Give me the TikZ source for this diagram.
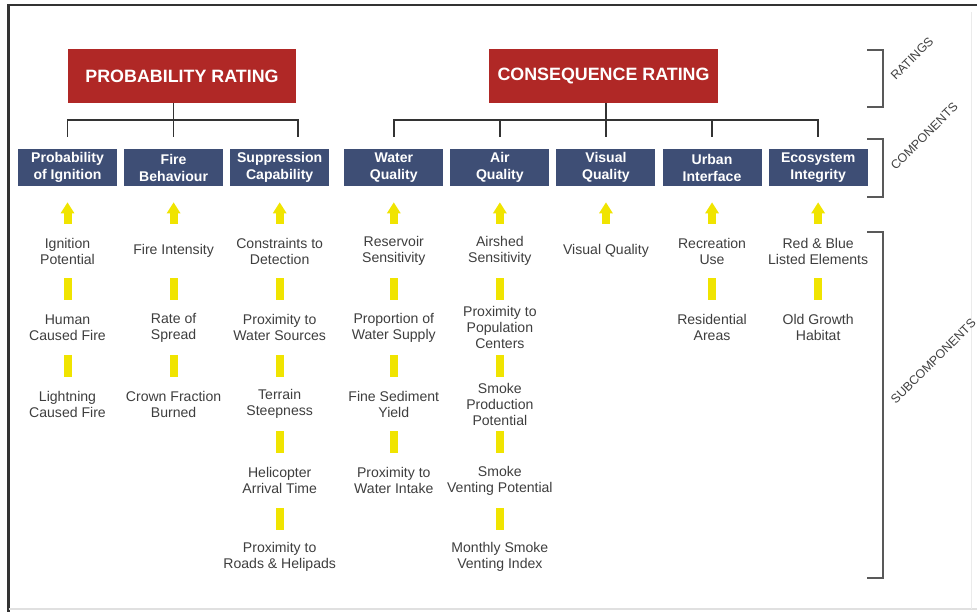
\documentclass[tikz,border=0pt]{standalone}
\usepackage{fontspec}
\setmainfont{Liberation Sans}
\usetikzlibrary{chains,positioning,arrows.meta}

\definecolor{ratingred}{RGB}{176,40,38}
\definecolor{compblue}{RGB}{62,78,117}
\definecolor{subyellow}{RGB}{240,228,0}
\definecolor{subtext}{RGB}{62,62,62}

\begin{document}
\begin{tikzpicture}
  [ x=0.025cm, y=0.025cm,
    node distance=1.9125cm,
  every join/.style={bar}]
  \tikzset{
    rating/.style={
      rectangle, fill=ratingred, text=white,
      minimum width=5.7cm, minimum height=1.325cm,
      font=\bfseries\fontsize{12.7}{14}\selectfont,
    },
    comp/.style={
      on chain, rectangle, fill=compblue, text=white,
      minimum width=2.475cm, minimum height=0.925cm, inner sep=0pt,
      align=center, font=\bfseries\fontsize{10}{12.1}\selectfont,
    },
    sub/.style={
      on grid, align=center, inner sep=0pt,
      minimum height=1.35cm, text=subtext,
      font=\fontsize{10}{11.4}\selectfont,
    },
    bar/.style={draw=subyellow, line width=0.2cm},
    uparrow/.style={bar, -{Triangle[length=0.275cm,width=0.325cm]}, shorten >=0.4cm},
    tree/.style={draw=black!80, line width=1.1pt},
    bracket/.style={draw=black!65, line width=1.3pt},
    side/.style={
      rotate=45, anchor=south west, inner sep=1pt, text=black!75,
      font=\fontsize{8.8}{10}\selectfont,
    },
  }
  \useasboundingbox (0,0) rectangle (977,612);

  % frame
  \draw[black!80, line width=1.5pt] (977,607) -- (8.5,607) -- (8.5,0);
  \draw[black!12, line width=0.8pt] (8.5,3) -- (977,3);
  \draw[black!8] (971,3) -- (971,600);

  \node[rating] (prob) at (182,536) {PROBABILITY RATING};
  \node[rating] (cons) at (603.5,536) {CONSEQUENCE RATING};

  \begin{scope}[start chain=going right, node distance=0.1625cm]
    \node[comp] (ignition) at (67.5,444.5) {Probability\\of Ignition};
    \node[comp] (fire)        {Fire\\Behaviour};
    \node[comp] (suppression) {Suppression\\Capability};
    \node[comp, xshift=0.2cm] (water) {Water\\Quality};
    \node[comp] (air)       {Air\\Quality};
    \node[comp] (visual)    {Visual\\Quality};
    \node[comp] (urban)     {Urban\\Interface};
    \node[comp] (ecosystem) {Ecosystem\\Integrity};
  \end{scope}

  % rating -> components
  \draw[tree] (fire.north |- prob.south) -- ([yshift=0.3cm]fire.north);
  \draw[tree] ([yshift=0.3cm]ignition.north) |- (fire.north |- 0,492)
    -| ([xshift=0.4625cm,yshift=0.3cm]suppression.north);
  \draw[tree] (visual.north |- cons.south) -- ([yshift=0.3cm]visual.north);
  \draw[tree] ([yshift=0.3cm]water.north) |- (visual.north |- 0,492)
    -| ([yshift=0.3cm]ecosystem.north);
  \draw[tree] ([yshift=0.3cm]air.north) -- (air.north |- 0,492);
  \draw[tree] ([yshift=0.3cm]urban.north) -- (urban.north |- 0,492);

  \begin{scope}[start chain=going below]
    \node[sub, below=2.0875cm of ignition, on chain] (ignpot) {Ignition\\Potential};
    \node[sub, on chain, join] {Human\\Caused Fire};
    \node[sub, on chain, join] {Lightning\\Caused Fire};
  \end{scope}

  \begin{scope}[start chain=going below]
    \node[sub, below=2.0875cm of fire, on chain] (fireint) {Fire Intensity};
    \node[sub, on chain, join] {Rate of\\Spread};
    \node[sub, on chain, join] {Crown Fraction\\Burned};
  \end{scope}

  \begin{scope}[start chain=going below]
    \node[sub, below=2.0875cm of suppression, on chain] (detect) {Constraints to\\Detection};
    \node[sub, on chain, join] {Proximity to\\Water Sources};
    \node[sub, on chain, join] {Terrain\\Steepness};
    \node[sub, on chain, join] {Helicopter\\Arrival Time};
    \node[sub, on chain, join] {Proximity to\\Roads \& Helipads};
  \end{scope}

  \begin{scope}[start chain=going below]
    \node[sub, below=2.0875cm of water, on chain] (reservoir) {Reservoir\\Sensitivity};
    \node[sub, on chain, join] {Proportion of\\Water Supply};
    \node[sub, on chain, join] {Fine Sediment\\Yield};
    \node[sub, on chain, join] {Proximity to\\Water Intake};
  \end{scope}

  \begin{scope}[start chain=going below]
    \node[sub, below=2.0875cm of air, on chain] (airshed) {Airshed\\Sensitivity};
    \node[sub, on chain, join] {Proximity to\\Population\\Centers};
    \node[sub, on chain, join] {Smoke\\Production\\Potential};
    \node[sub, on chain, join] {Smoke\\Venting Potential};
    \node[sub, on chain, join] {Monthly Smoke\\Venting Index};
  \end{scope}

  \node[sub, below=2.0875cm of visual] (visq) {Visual Quality};

  \begin{scope}[start chain=going below]
    \node[sub, below=2.0875cm of urban, on chain] (recreation) {Recreation\\Use};
    \node[sub, on chain, join] {Residential\\Areas};
  \end{scope}

  \begin{scope}[start chain=going below]
    \node[sub, below=2.0875cm of ecosystem, on chain] (listed) {Red \& Blue\\Listed Elements};
    \node[sub, on chain, join] {Old Growth\\Habitat};
  \end{scope}

  % subcomponents -> components
  \draw[uparrow] (ignpot) -- (ignition);
  \draw[uparrow] (fireint) -- (fire);
  \draw[uparrow] (detect) -- (suppression);
  \draw[uparrow] (reservoir) -- (water);
  \draw[uparrow] (airshed) -- (air);
  \draw[uparrow] (visq) -- (visual);
  \draw[uparrow] (recreation) -- (urban);
  \draw[uparrow] (listed) -- (ecosystem);

  % levels on the right
  \draw[bracket] (867,562) -| (883,505) -- (867,505);
  \draw[bracket] (867,473) -| (883,415) -- (867,415);
  \draw[bracket] (867,380) -| (883,34) -- (867,34);
  \node[side] (ratings) at (896,529) {RATINGS};
  \node[side] (components) at (896,439) {COMPONENTS};
  \node[side] (subcomponents) at (896,205) {SUBCOMPONENTS};
\end{tikzpicture}
\end{document}
